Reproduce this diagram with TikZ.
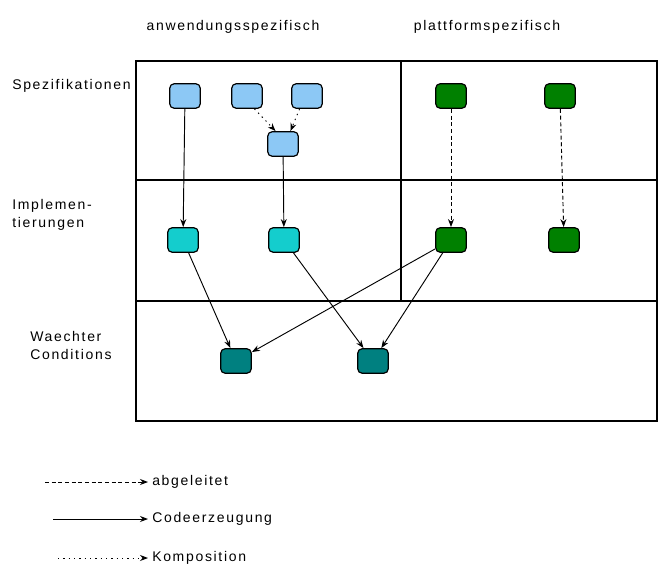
\documentclass[tikz,border=0pt]{standalone}
\usepackage{fontspec}
\newfontfamily\diafont[LetterSpace=12]{Liberation Sans}
\usetikzlibrary{shapes,arrows,arrows.meta,positioning,calc}
\definecolor{specblue}{RGB}{140,200,245}
\definecolor{implcyan}{RGB}{20,205,205}
\definecolor{platgreen}{RGB}{0,128,0}
\definecolor{guardteal}{RGB}{0,128,128}

\begin{document}
\begin{tikzpicture}[x=0.75pt, y=-0.75pt,
    box/.style={rectangle, draw, rounded corners=3.5pt, minimum width=23pt, minimum height=18.5pt, inner sep=0pt, line width=0.9pt},
    spec/.style={box, fill=specblue},
    impl/.style={box, fill=implcyan},
    plat/.style={box, fill=platgreen},
    guard/.style={box, fill=guardteal},
    label/.style={font=\diafont\fontsize{10.5}{13.5}\selectfont, align=left, inner sep=0pt},
    arrow/.style={-{Stealth[length=6pt,width=4.5pt]}, line width=0.7pt},
    derived/.style={arrow, dash pattern=on 3pt off 2pt},
    composed/.style={arrow, dash pattern=on 1pt off 3pt}
]
\useasboundingbox (0,0) rectangle (658,568);

% table
\draw[line width=0.9pt] (136,61) rectangle (657,421);
\draw[line width=0.9pt] (136,180) -- (657,180);
\draw[line width=0.9pt] (136,301) -- (657,301);
\draw[line width=0.9pt] (401,61) -- (401,301);

\node[label] (hanw) at (233,27) {anwendungsspezifisch};
\node[label] (hplat) at (487,27) {plattformspezifisch};

\node[label, anchor=west] (rspec) at (12,86) {Spezifikationen};
\node[label, anchor=west] (rimpl) at (12,215) {Implemen-\\tierungen};
\node[label, anchor=west] (rguard) at (30,345) {Waechter\\Conditions};

% nodes
\node[spec] (s1) at (185,96) {};
\node[spec] (s2) at (247,96) {};
\node[spec] (s3) at (307,96) {};
\node[spec] (sc) at (283,144) {};
\node[plat] (p1) at (451,96) {};
\node[plat] (p2) at (560,96) {};

\node[impl] (i1) at (183,240) {};
\node[impl] (i2) at (284,240) {};
\node[plat] (i3) at (451,240) {};
\node[plat] (i4) at (564,240) {};

\node[guard] (g1) at (236,361) {};
\node[guard] (g2) at (373,361) {};

\draw[arrow] (s1) -- (i1);
\draw[arrow] (sc) -- (i2);
\draw[composed] (s2.-60) -- (sc.120);
\draw[composed] (s3.-120) -- (sc.60);
\draw[derived] (p1) -- (i3);
\draw[derived] (p2) -- (i4);
\draw[arrow] (i1) -- (g1);
\draw[arrow] (i2) -- (g2);
\draw[arrow] (i3) -- (g1);
\draw[arrow] (i3) -- (g2);

% legend
\coordinate (la) at (45,482);
\coordinate (lc) at (53,519);
\coordinate (lk) at (58,558);
\node[label, anchor=west] (labg) at (152,482) {abgeleitet};
\node[label, anchor=west] (lcode) at (152,519) {Codeerzeugung};
\node[label, anchor=west] (lkomp) at (152,558) {Komposition};
\draw[derived] (la) -- ([xshift=-3pt]labg.west);
\draw[arrow] (lc) -- ([xshift=-3pt]lcode.west);
\draw[composed] (lk) -- ([xshift=-3pt]lkomp.west);

\end{tikzpicture}
\end{document}
